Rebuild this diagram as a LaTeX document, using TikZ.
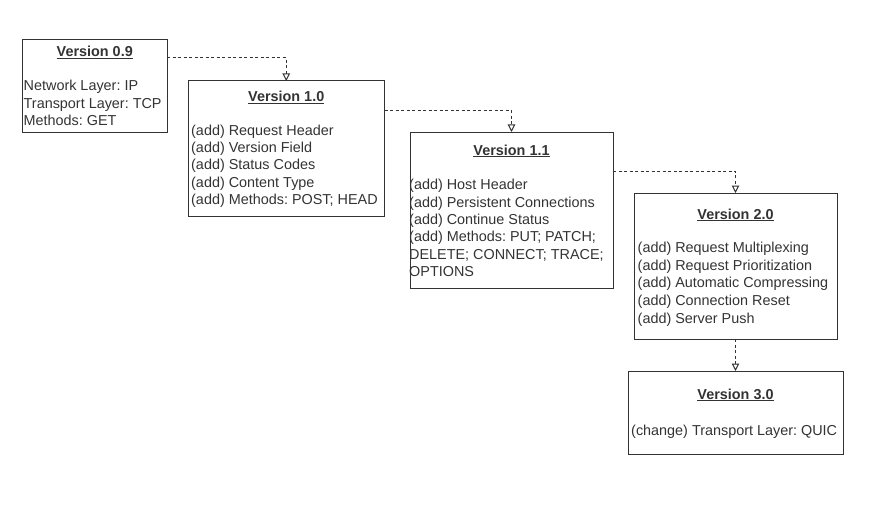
\documentclass[tikz,border=0pt]{standalone}
\usepackage{fontspec}
\setmainfont{Liberation Sans}
\usetikzlibrary{arrows.meta}
\usetikzlibrary{calc}
\usepackage{xcolor}
\definecolor{ink}{HTML}{333333}
\frenchspacing

\begin{document}
\begin{tikzpicture}[x=1pt,y=-1pt,
    box/.style={draw=ink, line width=1pt, inner sep=0pt},
    title/.style={text=ink, inner sep=0pt, anchor=base, font=\fontsize{14.4}{17}\selectfont\frenchspacing\bfseries},
    entry/.style={text=ink, inner sep=0pt, anchor=base west, font=\fontsize{14.4}{17}\selectfont\frenchspacing},
    link/.style={draw=ink, line width=1pt, dash pattern=on 3pt off 2.5pt, -{Triangle[open,length=7.5pt,width=7.5pt,fill=white]}}]

        \useasboundingbox (0,0) rectangle (880,516);

        % Boxes
        \path[box] (22.5,39.5) rectangle (167,132) node[midway] (v09) {};
        \path[box] (188,81) rectangle (384.5,216) node[midway] (v10) {};
        \path[box] (410,132) rectangle (613,288) node[midway] (v11) {};
        \path[box] (634,193) rectangle (837,339) node[midway] (v20) {};
        \path[box] (628,371) rectangle (843,454) node[midway] (v30) {};

        \coordinate (v09-ne) at (167,39.5);
        \coordinate (v10-ne) at (384.5,81);
        \coordinate (v11-ne) at (613,132);
        \coordinate (v10-n) at (286.25,81);
        \coordinate (v11-n) at (511.5,132);
        \coordinate (v20-n) at (735.5,193);
        \coordinate (v20-s) at (735.5,339);
        \coordinate (v30-n) at (735.5,371);

        % Titles
        \node[title] (t09) at (94.75,57) {\underline{Version 0.9}};
        \node[title] (t10) at (v10-n |- 0,102) {\underline{Version 1.0}};
        \node[title] (t11) at (v11-n |- 0,155) {\underline{Version 1.1}};
        \node[title] (t20) at (v20-n |- 0,219) {\underline{Version 2.0}};
        \node[title] (t30) at (v30-n |- 0,399) {\underline{Version 3.0}};

        % Entries
        \foreach \t [count=\i] in {{Network Layer: IP},{Transport Layer: TCP},{Methods: GET}}
        {
          \node[entry] (e09-\i) at ($(23.5,73.3)+(0,17.5*\i)$) {\t};
        }
        \foreach \t [count=\i] in {{(add) Request Header},{(add) Version Field},{(add) Status Codes},{(add) Content Type},{(add) Methods: POST; HEAD}}
        {
          \node[entry] (e10-\i) at ($(191,118)+(0,17.3*\i)$) {\t};
        }
        \foreach \t [count=\i] in {{(add) Host Header},{(add) Persistent Connections},{(add) Continue Status},{(add) Methods: PUT; PATCH;},{DELETE; CONNECT; TRACE;},{OPTIONS}}
        {
          \node[entry] (e11-\i) at ($(409,172.5)+(0,17.3*\i)$) {\t};
        }
        \foreach \t [count=\i] in {{(add) Request Multiplexing},{(add) Request Prioritization},{(add) Automatic Compressing},{(add) Connection Reset},{(add) Server Push}}
        {
          \node[entry] (e20-\i) at ($(637.5,235)+(0,17.6*\i)$) {\t};
        }
        \node[entry] (e30-1) at (631,435) {(change) Transport Layer: QUIC};

        % Links
        \draw[link] ($(v09-ne)+(0,18.5)$) -| (v10-n);
        \draw[link] ($(v10-ne)+(0,29.7)$) -| (v11-n);
        \draw[link] ($(v11-ne)+(0,39)$) -| (v20-n);
        \draw[link] (v20-s) -- (v30-n);
    \end{tikzpicture}
\end{document}
